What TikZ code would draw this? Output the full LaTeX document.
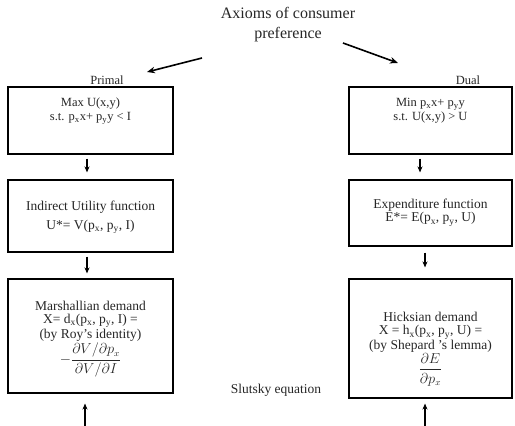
\documentclass[tikz,border=0pt]{standalone}
\usepackage{fontspec}
\setmainfont{Liberation Serif}
\usetikzlibrary{arrows.meta}

\begin{document}
\begin{tikzpicture}[x=1pt, y=1pt, >=Stealth,
  box/.style={draw, line width=1.1pt, inner sep=0pt},
  txt/.style={align=center, font=\fontsize{13.5}{13.5}\selectfont, text=black!85},
  flow/.style={-{Stealth[length=6pt,width=5pt]}, line width=1.5pt},
  fork/.style={-{Stealth[length=8pt,width=6.5pt]}, line width=1.6pt}]
\useasboundingbox (0,0) rectangle (515,426);

% title and the two branches
\node[txt, font=\fontsize{16}{20}\selectfont] (axioms) at (288,401) {Axioms of consumer\\preference};
\node[txt, font=\fontsize{12.5}{13}\selectfont] (primal) at (107,346) {Primal};
\node[txt, font=\fontsize{12.5}{13}\selectfont] (dual) at (468,346) {Dual};
\coordinate (ltail) at (202,368);
\coordinate (lhead) at (147,354);
\coordinate (rtail) at (343,383);
\coordinate (rhead) at (398,363);
\draw[fork] (ltail) -- (lhead);
\draw[fork] (rtail) -- (rhead);

% primal side
\node[box, minimum width=165pt, minimum height=67pt] (max) at (90.5,305.5) {};
\node[txt, font=\fontsize{12.5}{14}\selectfont] (maxtxt) at (90.5,315) {Max U(x,y)\\ s.t. p\textsubscript{x}x+ p\textsubscript{y}y < I};
\node[box, minimum width=165pt, minimum height=72pt] (indirect) at (90.5,210) {};
\node[txt] (indtxt) at (90.5,208.5) {Indirect Utility function\\[5pt] U*= V(p\textsubscript{x}, p\textsubscript{y}, I)};
\node[box, minimum width=165pt, minimum height=114pt] (marsh) at (90.5,90) {};
\node[txt] (marshtxt) at (90.5,87) {Marshallian demand\\ X= d\textsubscript{x}(p\textsubscript{x}, p\textsubscript{y}, I) =\\ (by Roy's identity)\\[1pt] $\displaystyle-\frac{\partial V/\partial p_x}{\partial V/\partial I}$};

% dual side
\node[box, minimum width=163pt, minimum height=67pt] (min) at (430.5,305.5) {};
\node[txt, font=\fontsize{12.5}{14}\selectfont] (mintxt) at (430.5,315) {Min p\textsubscript{x}x+ p\textsubscript{y}y\\ s.t. U(x,y) > U};
\node[box, minimum width=163pt, minimum height=66pt] (expend) at (430.5,213) {};
\node[txt] (exptxt) at (430.5,213.5) {Expenditure function\\ E*= E(p\textsubscript{x}, p\textsubscript{y}, U)};
\node[box, minimum width=163pt, minimum height=119pt] (hicks) at (430.5,87.5) {};
\node[txt] (hickstxt) at (430.5,77) {Hicksian demand\\ X = h\textsubscript{x}(p\textsubscript{x}, p\textsubscript{y}, U) =\\ (by Shepard 's lemma)\\ $\displaystyle\frac{\partial E}{\partial p_x}$};

\node[txt] (slutsky) at (276,36) {Slutsky equation};

% arrows down the columns
\draw[flow, shorten <=4pt, shorten >=7pt] ([xshift=-3.5pt]max.south) -- ([xshift=-3.5pt]indirect.north);
\draw[flow, shorten <=4pt, shorten >=5pt] ([xshift=-3.5pt]indirect.south) -- ([xshift=-3.5pt]marsh.north);
\draw[flow, shorten <=4pt, shorten >=7pt] ([xshift=-10.5pt]min.south) -- ([xshift=-10.5pt]expend.north);
\draw[flow, shorten <=6pt, shorten >=11pt] ([xshift=-5.5pt]expend.south) -- ([xshift=-5.5pt]hicks.north);

% arrows up from the bottom edge
\coordinate (lfoot) at (85,0);
\coordinate (rfoot) at (425,0);
\draw[flow, line width=1.9pt, shorten >=10pt] (lfoot) -- (lfoot |- marsh.south);
\draw[flow, shorten >=5pt] (rfoot) -- (rfoot |- hicks.south);
\end{tikzpicture}
\end{document}
